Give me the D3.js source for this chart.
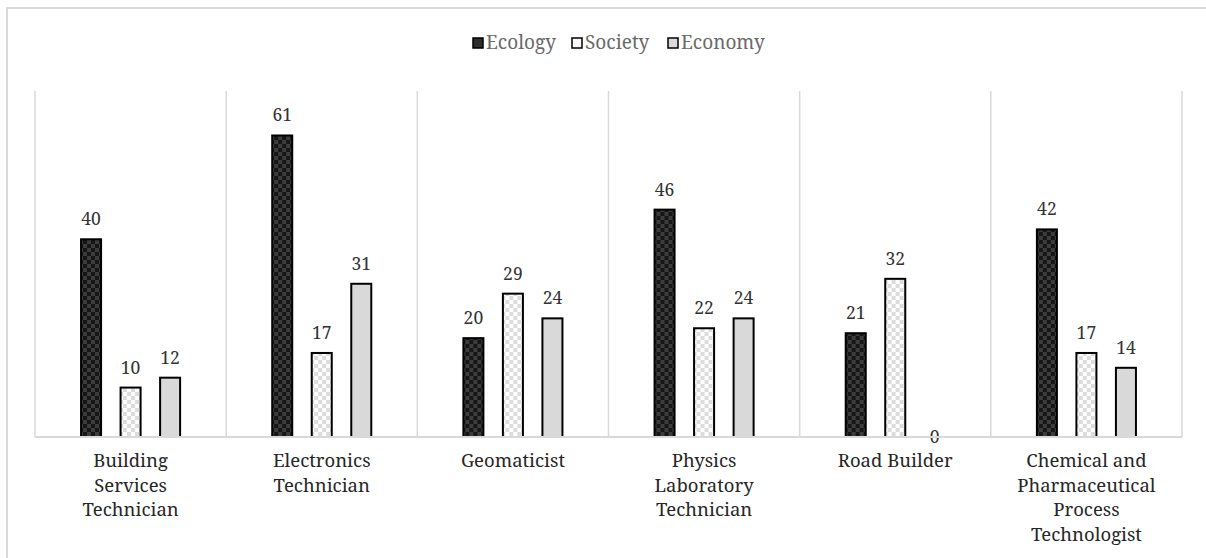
<!DOCTYPE html>
<html>
<head>
<meta charset="utf-8">
<script src="https://cdn.jsdelivr.net/npm/d3@7"></script>
<style>
  html, body { margin: 0; padding: 0; background: #fff; }
  svg { display: block; }
</style>
</head>
<body>
<svg id="chart" width="1206" height="558"></svg>
<script>
// Occupations and how often each sustainability dimension was coded
const categories = [
  "Building Services Technician",
  "Electronics Technician",
  "Geomaticist",
  "Physics Laboratory Technician",
  "Road Builder",
  "Chemical and Pharmaceutical Process Technologist"
];
// Wrapped tick labels, one array of lines per occupation
const tickLines = [
  ["Building", "Services", "Technician"],
  ["Electronics", "Technician"],
  ["Geomaticist"],
  ["Physics", "Laboratory", "Technician"],
  ["Road Builder"],
  ["Chemical and", "Pharmaceutical", "Process", "Technologist"]
];
const seriesNames = ["Ecology", "Society", "Economy"];
const ecology = [40, 61, 20, 46, 21, 42];
const society = [10, 17, 29, 22, 32, 17];
const economy = [12, 31, 24, 24, 0, 14];
const yTicks = [0, 10, 20, 30, 40, 50, 60, 70];

const FONT = "'Noto Serif', 'DejaVu Serif', 'Liberation Serif', Georgia, serif";

const seriesValues = [ecology, society, economy];
const rows = categories.map((c, i) => ({
  category: c,
  values: seriesNames.map((s, k) => ({ series: s, value: seriesValues[k][i] }))
}));

const svg = d3.select("#chart").style("font-family", FONT);
const plot = { left: 35, right: 1182, top: 91, bottom: 437 };

// Patterns: dark checker, light checker, plain grey
const defs = svg.append("defs");
function checker(id, a, b, size) {
  const p = defs.append("pattern")
    .attr("id", id).attr("patternUnits", "userSpaceOnUse")
    .attr("width", size * 2).attr("height", size * 2);
  p.append("rect").attr("width", size * 2).attr("height", size * 2).attr("fill", a);
  p.append("rect").attr("x", size).attr("width", size).attr("height", size).attr("fill", b);
  p.append("rect").attr("y", size).attr("width", size).attr("height", size).attr("fill", b);
}
checker("pat-eco", "#161616", "#3c3c3c", 4);
checker("pat-soc", "#ffffff", "#dcdcdc", 4);
const fills = { Ecology: "url(#pat-eco)", Society: "url(#pat-soc)", Economy: "#d9d9d9" };
const legendFills = { Ecology: "#2e2e2e", Society: "#ffffff", Economy: "#d9d9d9" };

// Chart frame
svg.append("rect")
  .attr("x", 7).attr("y", 8).attr("width", 1260).attr("height", 620)
  .attr("fill", "none").attr("stroke", "#d9d9d9").attr("stroke-width", 2);

const x0 = d3.scaleBand().domain(categories).range([plot.left, plot.right]).padding(0);
const x1 = d3.scaleBand().domain(seriesNames).range([0, x0.bandwidth()])
  .paddingInner(0.443).paddingOuter(1.14);
const y = d3.scaleLinear().domain([0, d3.max(yTicks)]).range([plot.bottom, plot.top]);

// Category separators
const seps = categories.map(c => x0(c)).concat([plot.right]);
svg.append("g").selectAll("line").data(seps).join("line")
  .attr("x1", d => d).attr("x2", d => d)
  .attr("y1", y(d3.max(yTicks))).attr("y2", plot.bottom)
  .attr("stroke", "#d9d9d9").attr("stroke-width", 1.5);

// Bars
const groups = svg.append("g").selectAll("g").data(rows).join("g")
  .attr("transform", d => `translate(${x0(d.category)},0)`);

groups.selectAll("rect").data(d => d.values).join("rect")
  .attr("x", d => x1(d.series) + 1)
  .attr("y", d => y(d.value))
  .attr("width", x1.bandwidth() - 2)
  .attr("height", d => y(0) - y(d.value))
  .attr("fill", d => fills[d.series])
  .attr("stroke", "#000")
  .attr("stroke-width", d => d.value > 0 ? 2 : 0);

// Value labels
groups.selectAll("text").data(d => d.values).join("text")
  .attr("x", d => x1(d.series) + x1.bandwidth() / 2)
  .attr("y", d => d.value > 0 ? y(d.value) - 14 : y(0) + 6)
  .attr("text-anchor", "middle")
  .attr("font-size", 17.5)
  .attr("fill", "#333")
  .text(d => d.value);

// Category axis (baseline + wrapped labels)
const xAxis = d3.axisBottom(x0).tickSize(0).tickFormat("");
const axisG = svg.append("g").attr("transform", `translate(0,${plot.bottom})`).call(xAxis);
axisG.attr("font-family", null);
axisG.select(".domain").attr("stroke", "#d9d9d9").attr("stroke-width", 2)
  .attr("d", `M${plot.left},0H${plot.right}`);

const labels = svg.append("g").selectAll("text").data(categories).join("text")
  .attr("x", c => x0(c) + x0.bandwidth() / 2)
  .attr("y", 467)
  .attr("text-anchor", "middle")
  .attr("font-size", 18.5)
  .attr("fill", "#262626");
labels.each(function(c, i) {
  d3.select(this).selectAll("tspan").data(tickLines[i]).join("tspan")
    .attr("x", x0(c) + x0.bandwidth() / 2)
    .attr("dy", (d, j) => j === 0 ? 0 : 24.5)
    .text(d => d);
});

// Legend
const legendX = [473, 572, 668];
const legend = svg.append("g").selectAll("g").data(seriesNames).join("g")
  .attr("transform", (d, i) => `translate(${legendX[i]},38)`);
legend.append("rect")
  .attr("width", 10).attr("height", 10)
  .attr("fill", d => legendFills[d])
  .attr("stroke", "#000").attr("stroke-width", 1.5);
legend.append("text")
  .attr("x", 13).attr("y", 11)
  .attr("font-size", 19)
  .attr("fill", "#6a6a6a")
  .text(d => d);
</script>
</body>
</html>
